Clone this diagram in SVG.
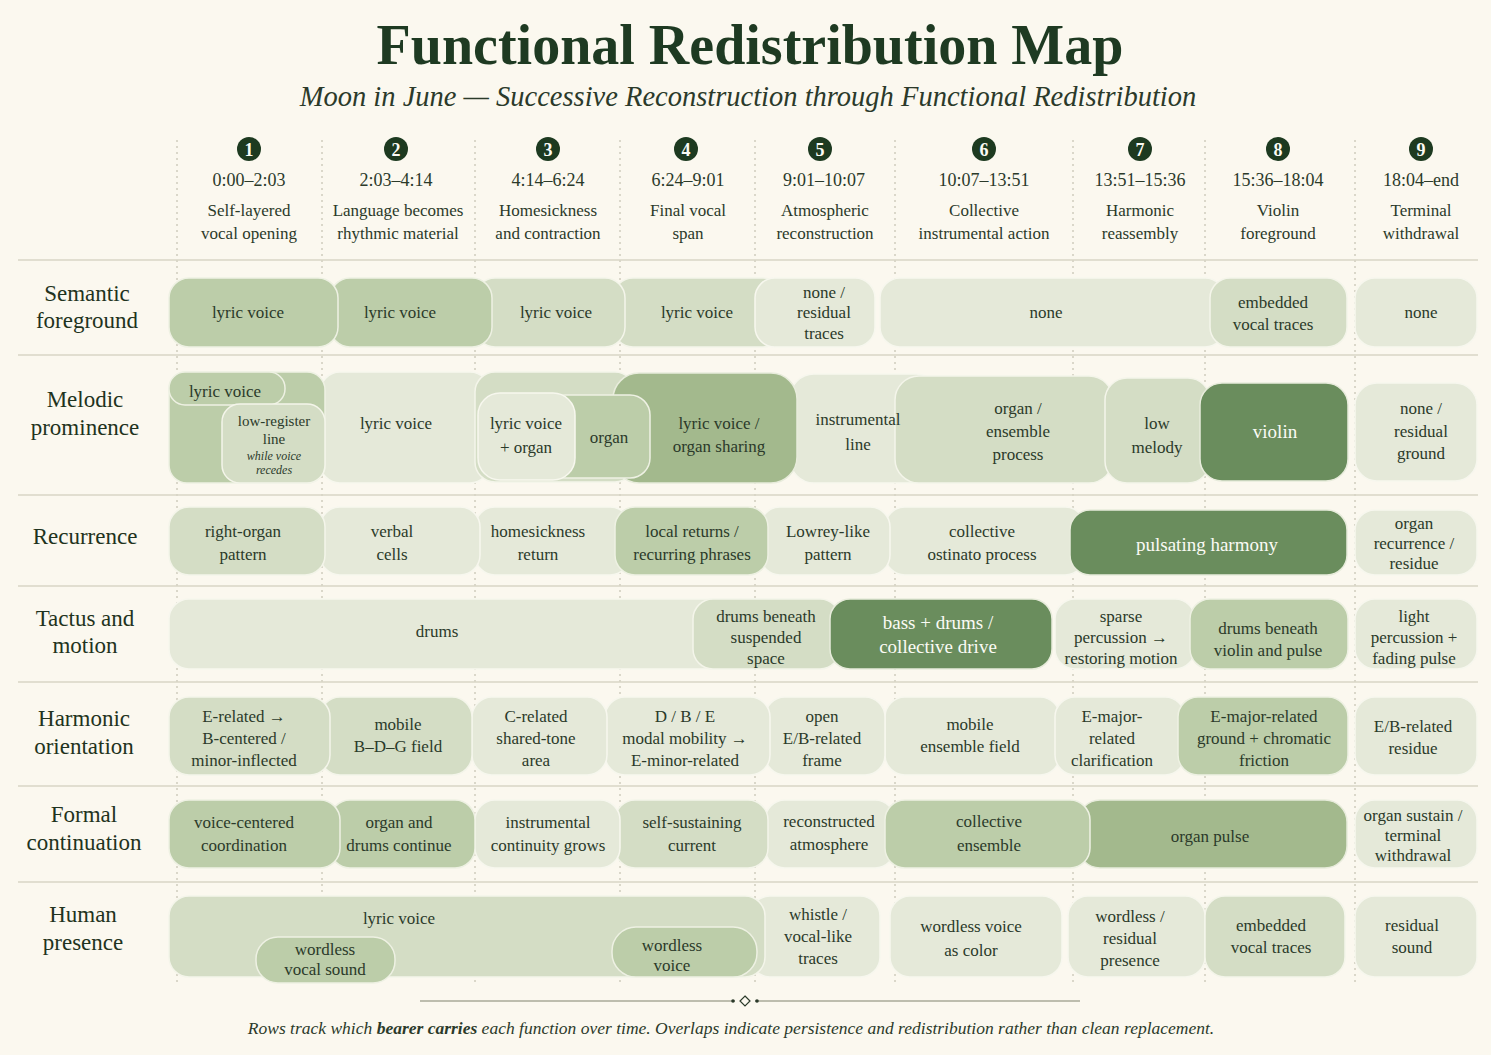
<svg xmlns="http://www.w3.org/2000/svg" width="1491" height="1055" viewBox="0 0 1491 1055">
<style>
text{font-family:"Liberation Serif","DejaVu Serif",serif;fill:#2b3a2a;text-anchor:middle}
.t{font-size:17px}
.w{fill:#fbfbf5}
.lab{font-size:23px;fill:#1f3320}
.c1{fill:#e5e9d9;stroke:#f7f7ee;stroke-width:1.5}
.c2{fill:#d4ddc5;stroke:#f4f5ea;stroke-width:1.5}
.c3{fill:#bccda9;stroke:#eef1e3;stroke-width:1.5}
.c4{fill:#a3b98d;stroke:#e8ecdc;stroke-width:1.5}
.c5{fill:#6a8d5d;stroke:#e8ecdc;stroke-width:1.5}
.vd{stroke:#b9b6a4;stroke-width:1;stroke-dasharray:2 4}
.hl{stroke:#d9d6c6;stroke-width:1.5}
.num{fill:#1d3a20}
.hd{font-size:18px}
</style>
<rect width="1491" height="1055" fill="#fbf8ef"/>
<g id="title">
<text x="750" y="64" font-size="56" font-weight="bold" style="fill:#1e3a22">Functional Redistribution Map</text>
<text x="748" y="106" font-size="28.5" font-style="italic">Moon in June — Successive Reconstruction through Functional Redistribution</text>
</g>
<g id="grid">
<line class="vd" x1="177" y1="140" x2="177" y2="985"/><line class="vd" x1="322" y1="140" x2="322" y2="985"/><line class="vd" x1="475" y1="140" x2="475" y2="985"/><line class="vd" x1="620" y1="140" x2="620" y2="985"/><line class="vd" x1="755" y1="140" x2="755" y2="985"/><line class="vd" x1="895" y1="140" x2="895" y2="985"/><line class="vd" x1="1073" y1="140" x2="1073" y2="985"/><line class="vd" x1="1205" y1="140" x2="1205" y2="985"/><line class="vd" x1="1355" y1="140" x2="1355" y2="985"/>
<line class="hl" x1="18" y1="260" x2="1478" y2="260"/><line class="hl" x1="18" y1="355" x2="1478" y2="355"/><line class="hl" x1="18" y1="495" x2="1478" y2="495"/><line class="hl" x1="18" y1="586" x2="1478" y2="586"/><line class="hl" x1="18" y1="682" x2="1478" y2="682"/><line class="hl" x1="18" y1="786" x2="1478" y2="786"/><line class="hl" x1="18" y1="882" x2="1478" y2="882"/>
</g>
<g id="headers">
<g id="h1"><circle class="num" cx="249" cy="149" r="12"/><text class="w" x="249" y="156" font-size="18" font-weight="bold">1</text><text class="hd" x="249" y="186">0:00–2:03</text><text class="t" x="249" y="216">Self-layered</text><text class="t" x="249" y="239">vocal opening</text></g>
<g id="h2"><circle class="num" cx="396" cy="149" r="12"/><text class="w" x="396" y="156" font-size="18" font-weight="bold">2</text><text class="hd" x="396" y="186">2:03–4:14</text><text class="t" x="398" y="216">Language becomes</text><text class="t" x="398" y="239">rhythmic material</text></g>
<g id="h3"><circle class="num" cx="548" cy="149" r="12"/><text class="w" x="548" y="156" font-size="18" font-weight="bold">3</text><text class="hd" x="548" y="186">4:14–6:24</text><text class="t" x="548" y="216">Homesickness</text><text class="t" x="548" y="239">and contraction</text></g>
<g id="h4"><circle class="num" cx="686" cy="149" r="12"/><text class="w" x="686" y="156" font-size="18" font-weight="bold">4</text><text class="hd" x="688" y="186">6:24–9:01</text><text class="t" x="688" y="216">Final vocal</text><text class="t" x="688" y="239">span</text></g>
<g id="h5"><circle class="num" cx="820" cy="149" r="12"/><text class="w" x="820" y="156" font-size="18" font-weight="bold">5</text><text class="hd" x="824" y="186">9:01–10:07</text><text class="t" x="825" y="216">Atmospheric</text><text class="t" x="825" y="239">reconstruction</text></g>
<g id="h6"><circle class="num" cx="984" cy="149" r="12"/><text class="w" x="984" y="156" font-size="18" font-weight="bold">6</text><text class="hd" x="984" y="186">10:07–13:51</text><text class="t" x="984" y="216">Collective</text><text class="t" x="984" y="239">instrumental action</text></g>
<g id="h7"><circle class="num" cx="1140" cy="149" r="12"/><text class="w" x="1140" y="156" font-size="18" font-weight="bold">7</text><text class="hd" x="1140" y="186">13:51–15:36</text><text class="t" x="1140" y="216">Harmonic</text><text class="t" x="1140" y="239">reassembly</text></g>
<g id="h8"><circle class="num" cx="1278" cy="149" r="12"/><text class="w" x="1278" y="156" font-size="18" font-weight="bold">8</text><text class="hd" x="1278" y="186">15:36–18:04</text><text class="t" x="1278" y="216">Violin</text><text class="t" x="1278" y="239">foreground</text></g>
<g id="h9"><circle class="num" cx="1421" cy="149" r="12"/><text class="w" x="1421" y="156" font-size="18" font-weight="bold">9</text><text class="hd" x="1421" y="186">18:04–end</text><text class="t" x="1421" y="216">Terminal</text><text class="t" x="1421" y="239">withdrawal</text></g>
</g>
<g id="rowlabels">
<text class="lab" x="87" y="301">Semantic</text><text class="lab" x="87" y="328">foreground</text>
<text class="lab" x="85" y="407">Melodic</text><text class="lab" x="85" y="435">prominence</text>
<text class="lab" x="85" y="544">Recurrence</text>
<text class="lab" x="85" y="626">Tactus and</text><text class="lab" x="85" y="653">motion</text>
<text class="lab" x="84" y="726">Harmonic</text><text class="lab" x="84" y="754">orientation</text>
<text class="lab" x="84" y="822">Formal</text><text class="lab" x="84" y="850">continuation</text>
<text class="lab" x="83" y="922">Human</text><text class="lab" x="83" y="950">presence</text>
</g>
<g id="row-semantic">
<rect class="c1" x="880" y="278" width="345" height="69" rx="20"/>
<rect class="c2" x="613" y="278" width="170" height="69" rx="20"/>
<rect class="c2" x="475" y="278" width="150" height="69" rx="20"/>
<rect class="c3" x="330" y="278" width="162" height="69" rx="20"/>
<rect class="c3" x="169" y="278" width="169" height="69" rx="20"/>
<rect class="c1" x="755" y="278" width="120" height="69" rx="20"/>
<rect class="c2" x="1210" y="278" width="137" height="69" rx="20"/>
<rect class="c1" x="1355" y="278" width="122" height="69" rx="20"/>
<text class="t" x="248" y="318">lyric voice</text><text class="t" x="400" y="318">lyric voice</text><text class="t" x="556" y="318">lyric voice</text><text class="t" x="697" y="318">lyric voice</text>
<text class="t" x="824" y="298">none /</text><text class="t" x="824" y="318">residual</text><text class="t" x="824" y="339">traces</text>
<text class="t" x="1046" y="318">none</text>
<text class="t" x="1273" y="308">embedded</text><text class="t" x="1273" y="330">vocal traces</text>
<text class="t" x="1421" y="318">none</text>
</g>
<g id="row-melodic">
<rect class="c1" x="320" y="372" width="170" height="111" rx="20"/>
<rect class="c2" x="475" y="372" width="160" height="110" rx="20"/>
<rect class="c1" x="790" y="374" width="150" height="109" rx="24"/>
<rect class="c2" x="895" y="376" width="218" height="107" rx="24"/>
<rect class="c2" x="1105" y="378" width="105" height="105" rx="22"/>
<rect class="c4" x="613" y="373" width="184" height="110" rx="26"/>
<rect class="c3" x="545" y="395" width="105" height="83" rx="20"/>
<rect class="c1" x="478" y="393" width="97" height="87" rx="22"/>
<rect class="c3" x="169" y="372" width="156" height="111" rx="18"/>
<rect class="c3" x="169" y="372" width="116" height="33" rx="16" stroke="none"/>
<rect class="c2" x="222" y="404" width="103" height="79" rx="18"/>
<rect class="c5" x="1200" y="383" width="148" height="98" rx="22"/>
<rect class="c1" x="1355" y="383" width="122" height="98" rx="22"/>
<text class="t" x="225" y="397">lyric voice</text>
<text x="274" y="426" font-size="15">low-register</text><text x="274" y="444" font-size="15">line</text>
<text x="274" y="460" font-size="12" font-style="italic">while voice</text><text x="274" y="474" font-size="12" font-style="italic">recedes</text>
<text class="t" x="396" y="429">lyric voice</text>
<text class="t" x="526" y="429">lyric voice</text><text class="t" x="526" y="453">+ organ</text>
<text class="t" x="609" y="443">organ</text>
<text class="t" x="719" y="429">lyric voice /</text><text class="t" x="719" y="452">organ sharing</text>
<text class="t" x="858" y="425">instrumental</text><text class="t" x="858" y="450">line</text>
<text class="t" x="1018" y="414">organ /</text><text class="t" x="1018" y="437">ensemble</text><text class="t" x="1018" y="460">process</text>
<text class="t" x="1157" y="429">low</text><text class="t" x="1157" y="453">melody</text>
<text class="w" x="1275" y="438" font-size="19">violin</text>
<text class="t" x="1421" y="414">none /</text><text class="t" x="1421" y="437">residual</text><text class="t" x="1421" y="459">ground</text>
</g>
<g id="row-recurrence">
<rect class="c1" x="885" y="507" width="200" height="68" rx="20"/>
<rect class="c1" x="760" y="507" width="130" height="68" rx="20"/>
<rect class="c1" x="475" y="507" width="155" height="68" rx="20"/>
<rect class="c1" x="320" y="507" width="160" height="68" rx="20"/>
<rect class="c2" x="169" y="507" width="156" height="68" rx="20"/>
<rect class="c3" x="615" y="507" width="153" height="68" rx="20"/>
<rect class="c5" x="1070" y="510" width="277" height="65" rx="20"/>
<rect class="c1" x="1355" y="510" width="122" height="65" rx="20"/>
<text class="t" x="243" y="537">right-organ</text><text class="t" x="243" y="560">pattern</text>
<text class="t" x="392" y="537">verbal</text><text class="t" x="392" y="560">cells</text>
<text class="t" x="538" y="537">homesickness</text><text class="t" x="538" y="560">return</text>
<text class="t" x="692" y="537">local returns /</text><text class="t" x="692" y="560">recurring phrases</text>
<text class="t" x="828" y="537">Lowrey-like</text><text class="t" x="828" y="560">pattern</text>
<text class="t" x="982" y="537">collective</text><text class="t" x="982" y="560">ostinato process</text>
<text class="w" x="1207" y="551" font-size="19">pulsating harmony</text>
<text class="t" x="1414" y="529">organ</text><text class="t" x="1414" y="549">recurrence /</text><text class="t" x="1414" y="569">residue</text>
</g>
<g id="row-tactus">
<rect class="c1" x="169" y="599" width="590" height="70" rx="20"/>
<rect class="c1" x="1055" y="599" width="140" height="70" rx="20"/>
<rect class="c2" x="693" y="599" width="147" height="70" rx="20"/>
<rect class="c5" x="830" y="599" width="222" height="70" rx="20"/>
<rect class="c3" x="1190" y="599" width="158" height="70" rx="20"/>
<rect class="c1" x="1355" y="599" width="122" height="70" rx="20"/>
<text class="t" x="437" y="637">drums</text>
<text class="t" x="766" y="622">drums beneath</text><text class="t" x="766" y="643">suspended</text><text class="t" x="766" y="664">space</text>
<text class="w" x="938" y="629" font-size="19">bass + drums /</text><text class="w" x="938" y="653" font-size="19">collective drive</text>
<text class="t" x="1121" y="622">sparse</text><text class="t" x="1121" y="643">percussion →</text><text class="t" x="1121" y="664">restoring motion</text>
<text class="t" x="1268" y="634">drums beneath</text><text class="t" x="1268" y="656">violin and pulse</text>
<text class="t" x="1414" y="622">light</text><text class="t" x="1414" y="643">percussion +</text><text class="t" x="1414" y="664">fading pulse</text>
</g>
<g id="row-harmonic">
<rect class="c1" x="885" y="697" width="175" height="78" rx="20"/>
<rect class="c1" x="765" y="697" width="120" height="78" rx="20"/>
<rect class="c1" x="605" y="697" width="165" height="78" rx="20"/>
<rect class="c1" x="472" y="697" width="135" height="78" rx="20"/>
<rect class="c2" x="320" y="697" width="152" height="78" rx="20"/>
<rect class="c2" x="169" y="697" width="161" height="78" rx="20"/>
<rect class="c1" x="1055" y="697" width="130" height="78" rx="20"/>
<rect class="c3" x="1178" y="697" width="170" height="78" rx="20"/>
<rect class="c1" x="1355" y="697" width="122" height="78" rx="20"/>
<text class="t" x="244" y="722">E-related →</text><text class="t" x="244" y="744">B-centered /</text><text class="t" x="244" y="766">minor-inflected</text>
<text class="t" x="398" y="730">mobile</text><text class="t" x="398" y="752">B–D–G field</text>
<text class="t" x="536" y="722">C-related</text><text class="t" x="536" y="744">shared-tone</text><text class="t" x="536" y="766">area</text>
<text class="t" x="685" y="722">D / B / E</text><text class="t" x="685" y="744">modal mobility →</text><text class="t" x="685" y="766">E-minor-related</text>
<text class="t" x="822" y="722">open</text><text class="t" x="822" y="744">E/B-related</text><text class="t" x="822" y="766">frame</text>
<text class="t" x="970" y="730">mobile</text><text class="t" x="970" y="752">ensemble field</text>
<text class="t" x="1112" y="722">E-major-</text><text class="t" x="1112" y="744">related</text><text class="t" x="1112" y="766">clarification</text>
<text class="t" x="1264" y="722">E-major-related</text><text class="t" x="1264" y="744">ground + chromatic</text><text class="t" x="1264" y="766">friction</text>
<text class="t" x="1413" y="732">E/B-related</text><text class="t" x="1413" y="754">residue</text>
</g>
<g id="row-formal">
<rect class="c1" x="765" y="800" width="130" height="68" rx="20"/>
<rect class="c2" x="615" y="800" width="153" height="68" rx="20"/>
<rect class="c1" x="475" y="800" width="145" height="68" rx="20"/>
<rect class="c4" x="1078" y="800" width="269" height="68" rx="22"/>
<rect class="c3" x="885" y="800" width="205" height="68" rx="20"/>
<rect class="c3" x="330" y="800" width="145" height="68" rx="20"/>
<rect class="c3" x="169" y="800" width="171" height="68" rx="20"/>
<rect class="c1" x="1355" y="800" width="122" height="68" rx="20"/>
<text class="t" x="244" y="828">voice-centered</text><text class="t" x="244" y="851">coordination</text>
<text class="t" x="399" y="828">organ and</text><text class="t" x="399" y="851">drums continue</text>
<text class="t" x="548" y="828">instrumental</text><text class="t" x="548" y="851">continuity grows</text>
<text class="t" x="692" y="828">self-sustaining</text><text class="t" x="692" y="851">current</text>
<text class="t" x="829" y="827">reconstructed</text><text class="t" x="829" y="850">atmosphere</text>
<text class="t" x="989" y="827">collective</text><text class="t" x="989" y="851">ensemble</text>
<text class="t" x="1210" y="842">organ pulse</text>
<text class="t" x="1413" y="821">organ sustain /</text><text class="t" x="1413" y="841">terminal</text><text class="t" x="1413" y="861">withdrawal</text>
</g>
<g id="row-human">
<rect class="c1" x="750" y="896" width="130" height="81" rx="20"/>
<rect class="c2" x="169" y="896" width="596" height="81" rx="20"/>
<rect class="c3" x="256" y="937" width="139" height="46" rx="22"/>
<rect class="c3" x="612" y="927" width="145" height="50" rx="24"/>
<rect class="c1" x="890" y="896" width="172" height="81" rx="20"/>
<rect class="c1" x="1068" y="896" width="137" height="81" rx="20"/>
<rect class="c2" x="1205" y="896" width="140" height="81" rx="20"/>
<rect class="c1" x="1355" y="896" width="122" height="81" rx="20"/>
<text class="t" x="399" y="924">lyric voice</text>
<text class="t" x="325" y="955">wordless</text><text class="t" x="325" y="975">vocal sound</text>
<text class="t" x="672" y="951">wordless</text><text class="t" x="672" y="971">voice</text>
<text class="t" x="818" y="920">whistle /</text><text class="t" x="818" y="942">vocal-like</text><text class="t" x="818" y="964">traces</text>
<text class="t" x="971" y="932">wordless voice</text><text class="t" x="971" y="956">as color</text>
<text class="t" x="1130" y="922">wordless /</text><text class="t" x="1130" y="944">residual</text><text class="t" x="1130" y="966">presence</text>
<text class="t" x="1271" y="931">embedded</text><text class="t" x="1271" y="953">vocal traces</text>
<text class="t" x="1412" y="931">residual</text><text class="t" x="1412" y="953">sound</text>
</g>
<g id="footer">
<line x1="420" y1="1001" x2="735" y2="1001" stroke="#a9aa98" stroke-width="1.5"/>
<line x1="755" y1="1001" x2="1080" y2="1001" stroke="#a9aa98" stroke-width="1.5"/>
<path d="M745 996 L750 1001 L745 1006 L740 1001 Z" fill="#fbf8ef" stroke="#2b3a2a" stroke-width="1.2"/>
<circle cx="733" cy="1001" r="1.8" fill="#2b3a2a"/><circle cx="757" cy="1001" r="1.8" fill="#2b3a2a"/>
<text x="731" y="1034" font-size="17.5" font-style="italic">Rows track which <tspan font-weight="bold">bearer carries</tspan> each function over time. Overlaps indicate persistence and redistribution rather than clean replacement.</text>
</g>
</svg>
